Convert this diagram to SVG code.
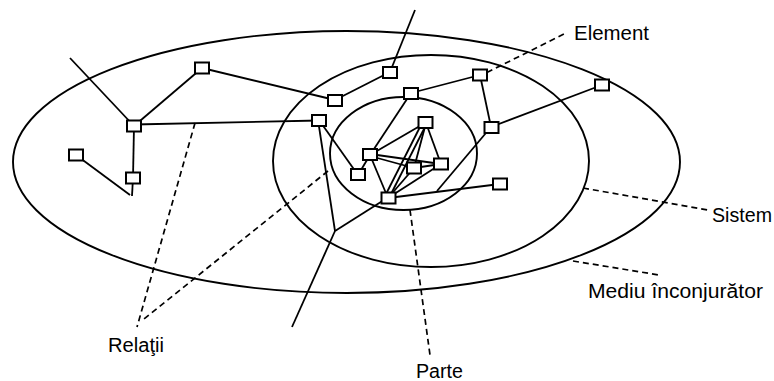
<svg xmlns="http://www.w3.org/2000/svg" width="774" height="381" viewBox="0 0 774 381">
<style>
.bg{fill:#fff}
.ell{fill:none;stroke:#000;stroke-width:1.9}
.ln{fill:none;stroke:#000;stroke-width:1.8}
.dash{fill:none;stroke:#000;stroke-width:1.7;stroke-dasharray:6,4}
.nd{fill:#fff;stroke:#000;stroke-width:2}
.lbl{font-family:"Liberation Sans",Arial,sans-serif;font-size:19.5px;fill:#000}
</style>
<rect class="bg" x="0" y="0" width="774" height="381"/>
<g id="ellipses">
<ellipse id="mediu" class="ell" cx="346.5" cy="162" rx="333.5" ry="131"/>
<ellipse id="sistem" class="ell" cx="431" cy="161" rx="158" ry="106"/>
<ellipse id="parte" class="ell" cx="403.5" cy="153.5" rx="73.5" ry="56.5"/>
</g>
<g id="connectors">
<line class="ln" x1="70" y1="58" x2="134" y2="126"/>
<line class="ln" x1="134" y1="126" x2="202" y2="68"/>
<line class="ln" x1="202" y1="68" x2="335" y2="100"/>
<line class="ln" x1="335" y1="100" x2="390" y2="72"/>
<line class="ln" x1="390" y1="72" x2="415" y2="10"/>
<line class="ln" x1="134" y1="124.5" x2="319" y2="120.5"/>
<line class="ln" x1="134" y1="126" x2="133" y2="178"/>
<line class="ln" x1="133" y1="178" x2="132" y2="196"/>
<line class="ln" x1="76" y1="155" x2="130" y2="195"/>
<line class="ln" x1="319" y1="120" x2="358" y2="175"/>
<line class="ln" x1="318" y1="120" x2="335" y2="231"/>
<line class="ln" x1="335" y1="231" x2="292" y2="327"/>
<line class="ln" x1="335" y1="231" x2="384" y2="200"/>
<line class="ln" x1="358" y1="175" x2="370" y2="155"/>
<line class="ln" x1="370" y1="155" x2="411" y2="93"/>
<line class="ln" x1="370" y1="155" x2="425" y2="123"/>
<line class="ln" x1="370" y1="154" x2="441" y2="164"/>
<line class="ln" x1="370" y1="156" x2="414" y2="168"/>
<line class="ln" x1="370" y1="155" x2="388" y2="198"/>
<line class="ln" x1="421" y1="125" x2="385" y2="196"/>
<line class="ln" x1="426" y1="125" x2="390" y2="196"/>
<line class="ln" x1="426" y1="123" x2="414" y2="168"/>
<line class="ln" x1="426" y1="123" x2="441" y2="164"/>
<line class="ln" x1="414" y1="168" x2="441" y2="164"/>
<line class="ln" x1="388" y1="198" x2="414" y2="168"/>
<line class="ln" x1="388" y1="198" x2="441" y2="164"/>
<line class="ln" x1="388" y1="198" x2="500" y2="184"/>
<line class="ln" x1="411" y1="93" x2="480" y2="75"/>
<line class="ln" x1="480" y1="75" x2="491" y2="127"/>
<line class="ln" x1="491" y1="127" x2="602" y2="85"/>
<line class="ln" x1="491" y1="127" x2="437" y2="191"/>
</g>
<g id="dashed-pointers">
<line class="dash" x1="195" y1="123" x2="137" y2="327"/>
<line class="dash" x1="328" y1="171" x2="144" y2="319"/>
<line class="dash" x1="478" y1="77" x2="566" y2="33"/>
<line class="dash" x1="583" y1="188" x2="708" y2="210"/>
<line class="dash" x1="573" y1="261" x2="659" y2="275"/>
<line class="dash" x1="410" y1="210" x2="430" y2="355"/>
</g>
<g id="nodes">
<g id="nA"><rect class="nd" x="195" y="62.5" width="14" height="11"/></g>
<g id="nB"><rect class="nd" x="127" y="120.5" width="14" height="11"/></g>
<g id="nC"><rect class="nd" x="69" y="149.5" width="14" height="11"/></g>
<g id="nD"><rect class="nd" x="126" y="172.5" width="14" height="11"/></g>
<g id="nE"><rect class="nd" x="328" y="95" width="14" height="11"/></g>
<g id="nF"><rect class="nd" x="312" y="115" width="14" height="11"/></g>
<g id="nG"><rect class="nd" x="383" y="67" width="14" height="11"/></g>
<g id="nH"><rect class="nd" x="404" y="88" width="14" height="11"/></g>
<g id="nI"><rect class="nd" x="473" y="69.5" width="14" height="11"/></g>
<g id="nJ"><rect class="nd" x="484.5" y="122" width="14" height="11"/></g>
<g id="nK"><rect class="nd" x="595" y="79.5" width="14" height="11"/></g>
<g id="nL"><rect class="nd" x="363" y="149" width="14" height="11"/></g>
<g id="nM"><rect class="nd" x="418.5" y="117" width="14" height="11"/></g>
<g id="nN"><rect class="nd" x="407" y="162.5" width="14" height="11"/></g>
<g id="nO"><rect class="nd" x="434" y="158.5" width="14" height="11"/></g>
<g id="nP"><rect class="nd" x="351" y="169" width="14" height="11"/></g>
<g id="nQ"><rect class="nd" x="381.5" y="192.5" width="14" height="11"/></g>
<g id="nR"><rect class="nd" x="493" y="178.5" width="14" height="11"/></g>
</g>
<g id="labels">
<text class="lbl" x="574" y="40" textLength="75" lengthAdjust="spacingAndGlyphs">Element</text>
<text class="lbl" x="712" y="222" textLength="60" lengthAdjust="spacingAndGlyphs">Sistem</text>
<text class="lbl" x="588" y="298" textLength="175" lengthAdjust="spacingAndGlyphs">Mediu înconjurător</text>
<text class="lbl" x="108" y="352" textLength="56" lengthAdjust="spacingAndGlyphs">Relaţii</text>
<text class="lbl" x="416" y="378" textLength="47" lengthAdjust="spacingAndGlyphs">Parte</text>
</g>
</svg>
